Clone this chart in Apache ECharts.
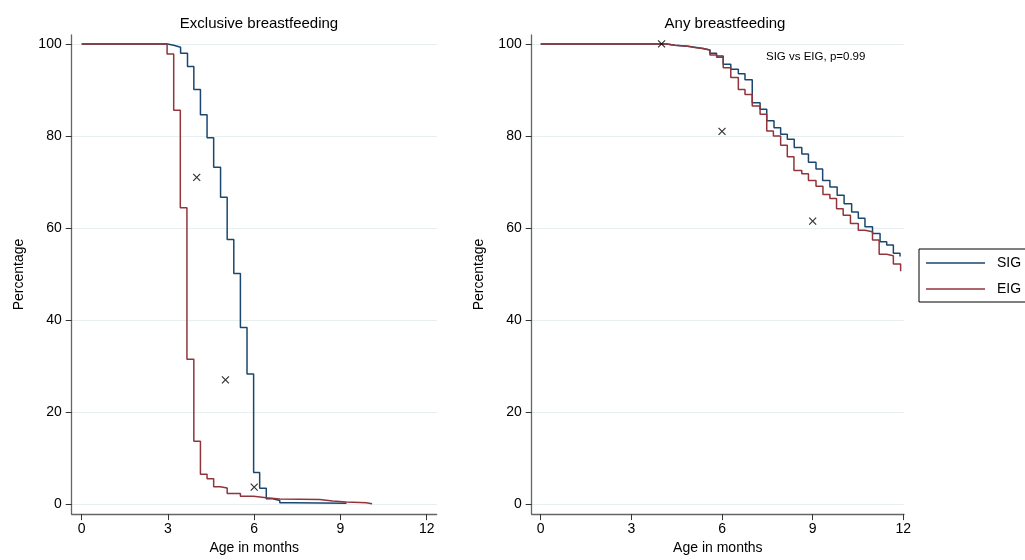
<!DOCTYPE html>
<html>
<head>
<meta charset="utf-8">
<script src="https://cdn.jsdelivr.net/npm/echarts@6/dist/echarts.min.js"></script>
<style>html,body{margin:0;padding:0;background:#fff}#c{width:1025px;height:560px}</style>
</head>
<body>
<div id="c"></div>
<script>
const xTicks = [0, 3, 6, 9, 12];
const yTicks = [0, 20, 40, 60, 80, 100];
const seriesNames = ['SIG', 'EIG'];
const panelTitles = ['Exclusive breastfeeding', 'Any breastfeeding'];
const annotation = 'SIG vs EIG, p=0.99';

// Exclusive breastfeeding, SIG
const exSIG_t = [0, 2.98, 3.2, 3.44, 3.68, 3.9, 4.13, 4.36, 4.59, 4.83, 5.06, 5.29, 5.52, 5.75, 5.98, 6.19, 6.42, 6.65, 6.89, 7.34, 9.21];
const exSIG_s = [100, 99.7, 99.3, 98.0, 95.1, 90.1, 84.6, 79.6, 73.2, 66.7, 57.5, 50.1, 38.4, 28.3, 6.9, 3.45, 1.2, 0.8, 0.3, 0.2, 0.2];
// Exclusive breastfeeding, EIG
const exEIG_t = [0, 2.97, 3.2, 3.43, 3.66, 3.9, 4.13, 4.36, 4.59, 4.82, 5.06, 5.52, 5.98, 6.42, 6.89, 8.28, 8.73, 9.2, 9.9, 10.1];
const exEIG_s = [100, 97.8, 85.6, 64.4, 31.5, 13.7, 6.5, 5.5, 3.8, 3.5, 2.3, 1.7, 1.4, 1.1, 1.0, 0.7, 0.5, 0.3, 0.1, 0.1];
// Any breastfeeding, SIG
const anySIG_t = [0, 4.17, 4.44, 4.87, 5.1, 5.37, 5.6, 5.82, 6.04, 6.29, 6.54, 6.76, 7.0, 7.26, 7.48, 7.72, 7.94, 8.16, 8.39, 8.64, 8.86, 9.11, 9.33, 9.57, 9.81, 10.04, 10.29, 10.51, 10.73, 10.98, 11.23, 11.45, 11.67, 11.89];
const anySIG_s = [100, 99.7, 99.5, 99.3, 99.0, 98.7, 98.0, 97.4, 95.6, 94.5, 93.5, 92.2, 87.2, 85.8, 83.3, 81.8, 80.4, 79.3, 77.5, 76.1, 74.3, 72.8, 70.3, 68.9, 67.1, 65.3, 63.5, 62.1, 60.3, 58.8, 57.0, 56.3, 54.5, 53.8];
// Any breastfeeding, EIG
const anyEIG_t = [0, 4.17, 4.44, 4.87, 5.1, 5.37, 5.6, 5.82, 6.04, 6.29, 6.54, 6.76, 7.0, 7.26, 7.48, 7.7, 7.94, 8.16, 8.38, 8.64, 8.86, 9.11, 9.34, 9.57, 9.79, 10.01, 10.25, 10.51, 10.73, 10.98, 11.2, 11.45, 11.67, 11.91];
const anyEIG_s = [100, 99.7, 99.5, 99.2, 99.0, 98.7, 97.6, 97.1, 94.8, 92.7, 90.1, 89.0, 86.5, 84.7, 81.1, 80.0, 78.0, 75.5, 72.5, 71.8, 70.3, 69.1, 67.3, 66.4, 64.2, 62.8, 61.0, 59.5, 59.2, 57.4, 54.3, 54.0, 52.2, 50.6];
// Marker crosses
const exMark_x = [4, 5, 6];
const exMark_y = [71, 27, 3.7];
const anyMark_x = [4, 6, 9];
const anyMark_y = [100, 81, 61.5];

const zip = (a, b) => a.map((v, i) => [v, b[i]]);
const FONT = 'Liberation Sans, Arial, Helvetica, sans-serif';
const BLUE = '#1a476f', RED = '#90353b';

function xAxisCfg(idx, min, max) {
  return {
    type: 'value', gridIndex: idx, min: min, max: max,
    name: 'Age in months', nameLocation: 'middle', nameGap: 25,
    nameTextStyle: {color: '#000', fontSize: 14, fontFamily: FONT},
    axisLine: {show: true, onZero: false, lineStyle: {color: '#666', width: 1.3}},
    axisTick: {show: true, length: 6, customValues: xTicks, lineStyle: {color: '#333', width: 1}},
    axisLabel: {customValues: xTicks, color: '#000', fontSize: 14, fontFamily: FONT, margin: 8},
    splitLine: {show: false}
  };
}
function yAxisCfg(idx) {
  return {
    type: 'value', gridIndex: idx, min: -2.155, max: 101.94,
    name: 'Percentage', nameLocation: 'middle', nameGap: 46,
    nameTextStyle: {color: '#000', fontSize: 14, fontFamily: FONT},
    axisLine: {show: true, onZero: false, lineStyle: {color: '#666', width: 1.3}},
    axisTick: {show: true, length: 6, customValues: yTicks, lineStyle: {color: '#333', width: 1}},
    axisLabel: {customValues: yTicks, color: '#000', fontSize: 14, fontFamily: FONT, margin: 10},
    splitLine: {show: true, lineStyle: {color: '#e7eff1', width: 1}}
  };
}
function km(name, idx, color, t, s) {
  return {
    name: name, type: 'line', xAxisIndex: idx, yAxisIndex: idx, step: 'end',
    symbol: 'none', data: zip(t, s), lineStyle: {color: color, width: 1.5},
    itemStyle: {color: color}, emphasis: {disabled: true}, animation: false, z: 3
  };
}
function marks(idx, xs, ys) {
  return {
    type: 'scatter', xAxisIndex: idx, yAxisIndex: idx, data: zip(xs, ys),
    symbol: 'path://M0,0L10,10M10,0L0,10', symbolSize: 7,
    itemStyle: {color: 'none', borderColor: '#000', borderWidth: 1.2},
    animation: false, z: 4, silent: true
  };
}

const chart = echarts.init(document.getElementById('c'), null, {renderer: 'canvas'});
chart.setOption({
  backgroundColor: '#fff',
  animation: false,
  title: [
    {text: panelTitles[0], left: 254, top: 11, textAlign: 'center',
     textStyle: {fontSize: 15, fontWeight: 'normal', color: '#000', fontFamily: FONT}},
    {text: panelTitles[1], left: 720, top: 11, textAlign: 'center',
     textStyle: {fontSize: 15, fontWeight: 'normal', color: '#000', fontFamily: FONT}}
  ],
  grid: [
    {left: 71.7, top: 35, width: 365, height: 483},
    {left: 531.7, top: 35, width: 372.3, height: 483}
  ],
  xAxis: [xAxisCfg(0, -0.348, 12.348), xAxisCfg(1, -0.298, 12.022)],
  yAxis: [yAxisCfg(0), yAxisCfg(1)],
  legend: {
    data: seriesNames.map(n => ({name: n, icon: 'rect'})), orient: 'vertical', left: 919, top: 249,
    itemWidth: 59, itemHeight: 1.5, itemGap: 10,
    padding: [6, 30, 5, 7],
    borderColor: '#000', borderWidth: 1, backgroundColor: '#fff',
    textStyle: {fontSize: 14, color: '#000', fontFamily: FONT, padding: [0, 0, 0, 7], lineHeight: 16},
    selectedMode: false
  },
  graphic: [
    {type: 'text', left: 766, top: 51,
     style: {text: annotation, fontSize: 11.5, fill: '#000', fontFamily: FONT}}
  ],
  series: [
    km(seriesNames[0], 0, BLUE, exSIG_t, exSIG_s),
    km(seriesNames[1], 0, RED, exEIG_t, exEIG_s),
    km(seriesNames[0], 1, BLUE, anySIG_t, anySIG_s),
    km(seriesNames[1], 1, RED, anyEIG_t, anyEIG_s),
    marks(0, exMark_x, exMark_y),
    marks(1, anyMark_x, anyMark_y)
  ]
});
</script>
</body>
</html>
